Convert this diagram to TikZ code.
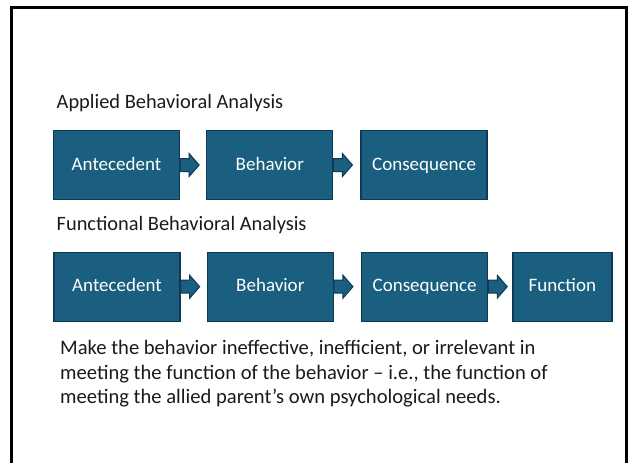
\documentclass[tikz,border=0pt]{standalone}
\usepackage{fontspec}
\setmainfont{Carlito}
\usepackage{tikz}
\usetikzlibrary{positioning,calc}
\definecolor{teal700}{HTML}{1A5E80}
\definecolor{teal900}{HTML}{0E3A52}
\definecolor{ink900} {HTML}{1A1A1A}
\tikzset{
  blk/.style   ={draw=teal900, line width=1.3pt, fill=teal700,
                 minimum width=126pt, minimum height=69pt, inner sep=0pt,
                 text height=13.5pt, text depth=3.5pt,
                 text=white, font=\fontsize{19}{23}\selectfont},
  blkar/.style ={draw=teal900, line width=1pt, fill=teal700,
                 line join=miter},
  title/.style ={anchor=base west, inner sep=0pt, text=ink900,
                 font=\fontsize{20.4}{24}\selectfont},
  para/.style  ={anchor=north west, inner sep=0pt, text=ink900, align=left,
                 font=\fontsize{20.6}{24.7}\selectfont}
}
% block arrow that leaves the east side of a box
\newcommand{\blockarrow}[1]{%
  \draw[blkar] (#1.east) +(0,-6.5) -- +(9,-6.5) -- +(9,-11.5) -- +(19,0)
    -- +(9,11.5) -- +(9,6.5) -- +(0,6.5) -- cycle;}
\begin{document}
\begin{tikzpicture}[x=1pt, y=-1pt]
\useasboundingbox (0,0) rectangle (630,463);
\draw[line width=3pt, line join=miter]
  (11.5,470) -- (11.5,7.5) -- (626.5,7.5) -- (626.5,470);

% applied behavioral analysis
\node[title] (aba) at (56.5,108.3) {Applied Behavioral Analysis};
\node[blk] (ant1) at (116.5,165) {Antecedent};
\node[blk, right=26pt of ant1] (beh1) {Behavior};
\node[blk, right=27pt of beh1] (con1) {Consequence};
\blockarrow{ant1}
\blockarrow{beh1}

% functional behavioral analysis
\node[title] (fba) at (56.5,230.7) {Functional Behavioral Analysis};
\node[blk] (ant2) at (117,286.7) {Antecedent};
\node[blk, right=26pt of ant2] (beh2) {Behavior};
\node[blk, right=27pt of beh2] (con2) {Consequence};
\node[blk, minimum width=99pt, right=24pt of con2] (fun2) {Function};
\blockarrow{ant2}
\blockarrow{beh2}
\blockarrow{con2}

\node[para] (goal) at (60,340)
  {Make the behavior ineffective, inefficient, or irrelevant in\\
   meeting the function of the behavior -- i.e., the function of\\
   meeting the allied parent’s own psychological needs.};
\end{tikzpicture}
\end{document}
